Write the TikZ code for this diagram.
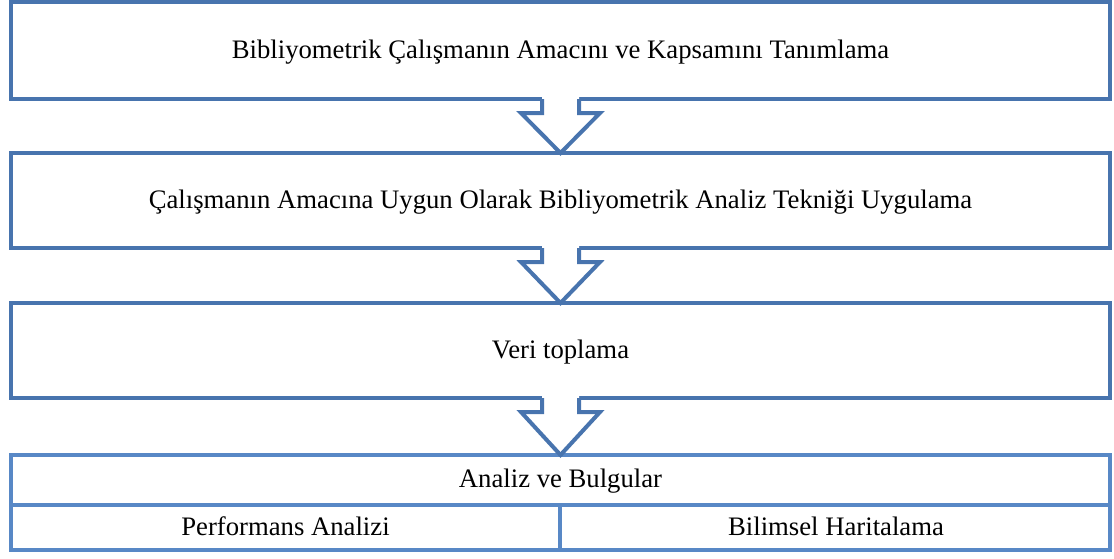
\documentclass[tikz,border=0pt]{standalone}
\usepackage{fontspec}
\setmainfont{Liberation Serif}
\usetikzlibrary{calc}
\definecolor{boxblue}{RGB}{72,116,174}
\definecolor{tableblue}{RGB}{88,136,198}
\begin{document}
\begin{tikzpicture}[x=0.5pt,y=-0.5pt,
  txt/.style={font=\fontsize{13.35}{16}\selectfont,text height=9pt,text depth=1.5pt},
  stepbox/.style={txt,draw=boxblue,line width=2pt,fill=white,outer sep=0pt,
    minimum width=549.5pt,minimum height=47.5pt},
  cell/.style={txt,inner sep=0pt},
  flowarrow/.style={draw=boxblue,line width=2pt,line join=miter}]
\useasboundingbox[fill=white] (0,0) rectangle (1114,558);

% process steps
\node[stepbox,minimum height=48.5pt] (b1) at (560.5,50.5)
  {Bibliyometrik Çalışmanın Amacını ve Kapsamını Tanımlama};
\node[stepbox] (b2) at (560.5,200.5)
  {Çalışmanın Amacına Uygun Olarak Bibliyometrik Analiz Tekniği Uygulama};
\node[stepbox] (b3) at (560.5,350.5) {Veri toplama};

% results table
\node[draw=tableblue,line width=2pt,outer sep=0pt,
  minimum width=549.5pt,minimum height=47.5pt] (t) at (560.5,502.5) {};
\coordinate (tl) at (11,505);
\coordinate (tr) at (1110,505);
\coordinate (tm) at (560,505);
\draw[tableblue,line width=2pt] (tl) -- (tr);
\draw[tableblue,line width=2pt] (tm) -- (t.south -| tm);
\node[cell] (h) at (560.5,480) {Analiz ve Bulgular};
\node[cell] (pa) at (285.5,527.5) {Performans Analizi};
\node[cell] (bh) at (836,527.5) {Bilimsel Haritalama};

% hollow block arrows between the steps
\foreach \a/\b in {b1/b2,b2/b3,b3/t}{
  \fill[white] ($(\a.south)+(-18.5,-3)$) -- ($(\a.south)+(-18.5,14)$)
    -- ($(\a.south)+(-39.5,14)$) -- (\b.north) -- ($(\a.south)+(39.5,14)$)
    -- ($(\a.south)+(18.5,14)$) -- ($(\a.south)+(18.5,-3)$) -- cycle;
  \draw[flowarrow] ($(\a.south)+(-18.5,0)$) -- ($(\a.south)+(-18.5,14)$)
    -- ($(\a.south)+(-39.5,14)$) -- (\b.north) -- ($(\a.south)+(39.5,14)$)
    -- ($(\a.south)+(18.5,14)$) -- ($(\a.south)+(18.5,0)$);
}
\end{tikzpicture}
\end{document}
